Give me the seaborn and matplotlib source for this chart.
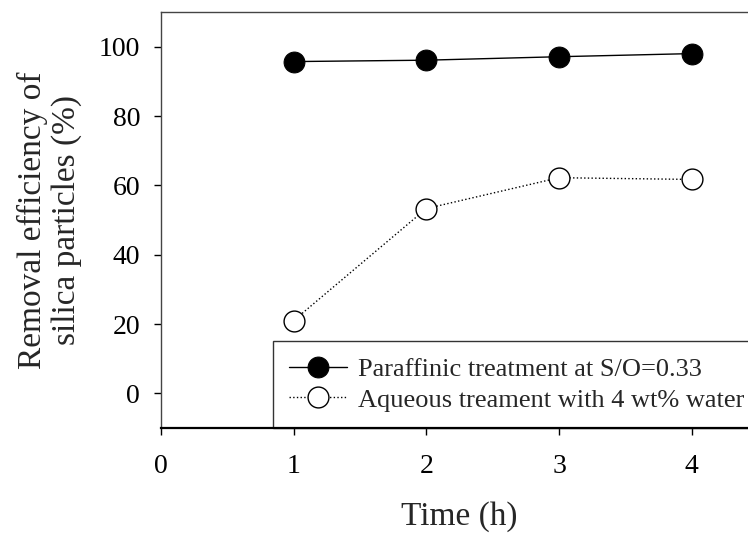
import matplotlib
matplotlib.use("Agg")
import matplotlib.pyplot as plt
import seaborn as sns
import pandas as pd

time_h = [1, 2, 3, 4]
paraffinic = [95.7, 96.1, 97.1, 98.0]
aqueous = [21.0, 53.3, 62.2, 61.7]
labels = ["Paraffinic treatment at S/O=0.33", "Aqueous treament with 4 wt% water"]
x_ticks = [0, 1, 2, 3, 4]
y_ticks = [0, 20, 40, 60, 80, 100]

sns.set_style("ticks")
plt.rcParams['font.family'] = ['Liberation Serif', 'DejaVu Serif']

df1 = pd.DataFrame({"t": time_h, "v": paraffinic})
df2 = pd.DataFrame({"t": time_h, "v": aqueous})

fig = plt.figure(figsize=(7.48, 5.35), dpi=100)
W, H = 748, 535
ax = fig.add_axes([161 / W, 1 - 428 / H, (758 - 161) / W, 416 / H])

sns.lineplot(data=df1, x="t", y="v", ax=ax, color="black", linewidth=1.0,
             marker="o", markersize=15, markerfacecolor="black",
             markeredgecolor="black", label=labels[0])
sns.lineplot(data=df2, x="t", y="v", ax=ax, color="black", linewidth=1.0,
             linestyle=":", marker="o", markersize=15, markerfacecolor="white",
             markeredgecolor="black", markeredgewidth=1.0, label=labels[1])

ax.set_xlim(0, 4.5)
ax.set_ylim(-10, 110)
ax.set_xticks(x_ticks)
ax.set_yticks(y_ticks)
ax.tick_params(axis="both", direction="out", length=5, width=1, labelsize=20, colors="black")
ax.tick_params(axis="x", pad=14)
ax.tick_params(axis="y", pad=10)
for s in ["top", "left"]:
    ax.spines[s].set_color("#444444")
    ax.spines[s].set_linewidth(1.0)
ax.spines["bottom"].set_color("black")
ax.spines["bottom"].set_linewidth(1.6)
ax.spines["bottom"].set_zorder(10)
ax.spines["right"].set_visible(False)

ax.set_xlabel("Time (h)", fontsize=24, labelpad=16)
ax.set_ylabel("Removal efficiency of\nsilica particles (%)", fontsize=24, labelpad=12, linespacing=1.15)

leg = ax.legend(loc="lower left", bbox_to_anchor=(273 / W, 1 - 428 / H),
                bbox_transform=fig.transFigure, fontsize=19, frameon=True,
                fancybox=False, edgecolor="#333333", framealpha=1,
                handlelength=2.2, handletextpad=0.4, borderpad=0.62,
                labelspacing=0.27, borderaxespad=0)
leg.get_frame().set_linewidth(1.0)
leg.set_zorder(5)

fig.savefig("out.png", dpi=100)
